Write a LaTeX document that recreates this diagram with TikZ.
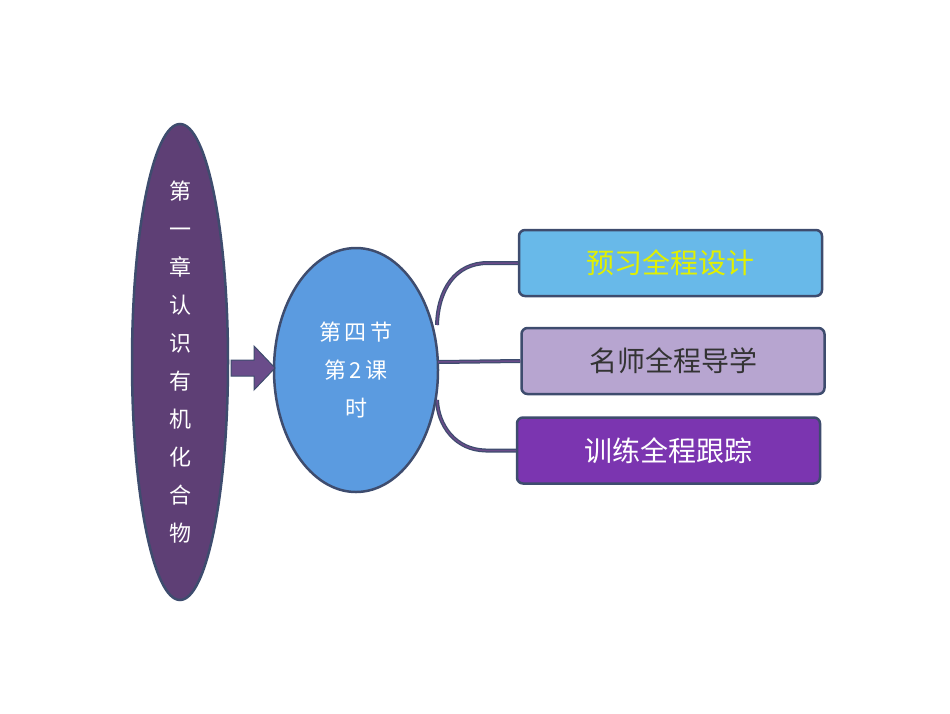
\documentclass[tikz,border=0pt]{standalone}
\usepackage{fontspec}
\setmainfont{Noto Sans CJK SC}
\usetikzlibrary{shapes.geometric}
\begin{document}
\begin{tikzpicture}[x=1pt,y=-1pt,
  bd/.style={draw=bordc,line width=2.5pt},
  conn/.style={draw=bordc,line width=4pt},
  connin/.style={draw=connc,line width=1.5pt},
  boxs/.style={bd,rounded corners=6pt,minimum width=303pt,minimum height=66pt,font=\fontsize{28}{30}\selectfont}]
\definecolor{bordc}{HTML}{3E4C6E}
\definecolor{connc}{HTML}{6A4C8A}
\definecolor{lp}{HTML}{5E3F75}
\definecolor{mb}{HTML}{5B9BE0}
\useasboundingbox (0,0) rectangle (950,713);
\node[bd,ellipse,fill=lp,minimum width=96pt,minimum height=476pt,inner sep=0pt] (left) at (180,362) {};
\node[text=white,font=\fontsize{22}{38}\selectfont,align=center] (lt) at (180,362) {第\\一\\章\\认\\识\\有\\机\\化\\合\\物};
\node[bd,ellipse,fill=mb,minimum width=164pt,minimum height=244pt,inner sep=0pt] (mid) at (356,370) {};
\node[text=white,font=\fontsize{22}{38}\selectfont,align=center] (mt) at (356,370) {第\,四\,节\\第\,2\,课\\时};
\draw[draw=bordc,fill=connc,line width=1pt] (231,360) -- (254,360) -- (254,346) -- (275,368) -- (254,390) -- (254,376) -- (231,376) -- cycle;
\node[boxs,fill=cyan!80!blue!60,text={rgb,255:red,225;green,240;blue,0}] (b1) at (670.5,263) {预习全程设计};
\node[boxs,fill={rgb,255:red,183;green,165;blue,208},text=black!80] (b2) at (673,361) {名师全程导学};
\node[boxs,fill={rgb,255:red,123;green,53;blue,176},text=white] (b3) at (668.5,450.5) {训练全程跟踪};
\foreach \s in {conn,connin}{
 \draw[\s] (b1.west) -- ++(-30,0) .. controls (455,263) and (438,290) .. (437,325);
 \draw[\s] (b3.west) -- ++(-30,0) .. controls (455,450) and (438,425) .. (437,400);
 \draw[\s] (438,362) -- (b2.west);
}
\end{tikzpicture}
\end{document}
